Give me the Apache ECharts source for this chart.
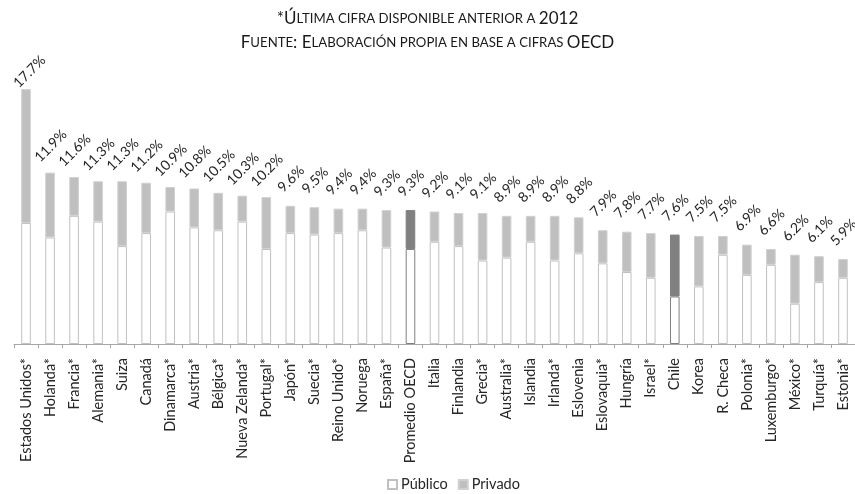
<!DOCTYPE html>
<html>
<head>
<meta charset="utf-8">
<script src="https://cdn.jsdelivr.net/npm/echarts@6/dist/echarts.min.js"></script>
<style>
  html, body { margin: 0; padding: 0; background: #ffffff; }
  #chart { width: 855px; height: 494px; }
</style>
</head>
<body>
<div id="chart"></div>
<script>
// Gasto en salud como % del PIB, separado en público y privado
const paises = [
  'Estados Unidos*', 'Holanda*', 'Francia*', 'Alemania*', 'Suiza', 'Canadá',
  'Dinamarca*', 'Austria*', 'Bélgica*', 'Nueva Zelanda*', 'Portugal*', 'Japón*',
  'Suecia*', 'Reino Unido*', 'Noruega', 'España*', 'Promedio OECD', 'Italia',
  'Finlandia', 'Grecia*', 'Australia*', 'Islandia', 'Irlanda*', 'Eslovenia',
  'Eslovaquia*', 'Hungría', 'Israel*', 'Chile', 'Korea', 'R. Checa',
  'Polonia*', 'Luxemburgo*', 'México*', 'Turquía*', 'Estonia*'
];

const publico = [
  8.4, 7.4, 8.9, 8.5, 6.8, 7.7,
  9.2, 8.1, 7.9, 8.5, 6.6, 7.7,
  7.6, 7.7, 7.9, 6.7, 6.6, 7.1,
  6.8, 5.8, 6.0, 7.1, 5.8, 6.3,
  5.6, 5.0, 4.6, 3.3, 4.0, 6.2,
  4.8, 5.5, 2.8, 4.3, 4.6
];

const privado = [
  9.3, 4.5, 2.7, 2.8, 4.5, 3.5,
  1.7, 2.7, 2.6, 1.8, 3.6, 1.9,
  1.9, 1.7, 1.5, 2.6, 2.7, 2.1,
  2.3, 3.3, 2.9, 1.8, 3.1, 2.5,
  2.3, 2.8, 3.1, 4.3, 3.5, 1.3,
  2.1, 1.1, 3.4, 1.8, 1.3
];

// Barras resaltadas en gris oscuro
const destacados = ['Promedio OECD', 'Chile'];

const fuente = 'Lato, "Open Sans", sans-serif';
const oscuro = '#262626';

const datosPublico = publico.map((v, i) => destacados.includes(paises[i])
  ? { value: v, itemStyle: { borderColor: '#808080' } }
  : v);

const datosPrivado = privado.map((v, i) => {
  const item = { value: v };
  if (destacados.includes(paises[i])) {
    item.itemStyle = { color: '#808080', borderColor: '#808080' };
  }
  // la etiqueta más alta queda pegada al borde superior del área de trazado
  if (i === 0) {
    item.label = { distance: 14, offset: [5, 0] };
  }
  return item;
});

const chart = echarts.init(document.getElementById('chart'), null, { renderer: 'canvas' });

chart.setOption({
  animation: false,
  backgroundColor: '#ffffff',
  title: {
    left: 'center',
    top: 2,
    text: '{b|*Ú}{s|LTIMA CIFRA DISPONIBLE ANTERIOR A }{b|2012}\n{b|F}{s|UENTE}{b|: E}{s|LABORACIÓN PROPIA EN BASE A CIFRAS }{b|OECD}',
    textStyle: {
      fontFamily: fuente,
      fontWeight: 'normal',
      color: '#1a1a1a',
      lineHeight: 24,
      rich: {
        b: { fontSize: 17, fontFamily: fuente, fontWeight: 'normal', color: '#1a1a1a', lineHeight: 24 },
        s: { fontSize: 13.2, fontFamily: fuente, fontWeight: 'normal', color: '#1a1a1a', lineHeight: 24 }
      }
    }
  },
  legend: {
    top: 472,
    left: 382,
    itemWidth: 9,
    itemHeight: 9,
    itemGap: 10,
    icon: 'rect',
    textStyle: { fontFamily: fuente, fontSize: 14.5, color: oscuro, padding: [0, 0, 0, -1] },
    data: ['Público', 'Privado']
  },
  grid: { left: 14, right: 0, top: 56, bottom: 150, containLabel: false },
  xAxis: {
    type: 'category',
    data: paises,
    axisLine: { lineStyle: { color: '#a6a6a6', width: 1 } },
    axisTick: { show: true, length: 4, lineStyle: { color: '#a6a6a6' } },
    axisLabel: {
      interval: 0,
      rotate: 90,
      margin: 14,
      fontFamily: fuente,
      fontSize: 14.5,
      color: oscuro
    }
  },
  yAxis: {
    type: 'value',
    min: 0,
    max: 20,
    show: false,
    splitLine: { show: false }
  },
  series: [
    {
      name: 'Público',
      type: 'bar',
      stack: 'gasto',
      barWidth: '40%',
      data: datosPublico,
      itemStyle: { color: '#ffffff', borderColor: '#c0c0c0', borderWidth: 1 }
    },
    {
      name: 'Privado',
      type: 'bar',
      stack: 'gasto',
      barWidth: '40%',
      data: datosPrivado,
      itemStyle: { color: '#bfbfbf', borderColor: '#d0d0d0', borderWidth: 1 },
      label: {
        show: true,
        position: 'top',
        distance: 26,
        rotate: 45,
        align: 'center',
        verticalAlign: 'middle',
        offset: [1, 0],
        fontFamily: fuente,
        fontSize: 14,
        color: oscuro,
        formatter: p => (publico[p.dataIndex] + privado[p.dataIndex]).toFixed(1) + '%'
      }
    }
  ]
});
</script>
</body>
</html>
